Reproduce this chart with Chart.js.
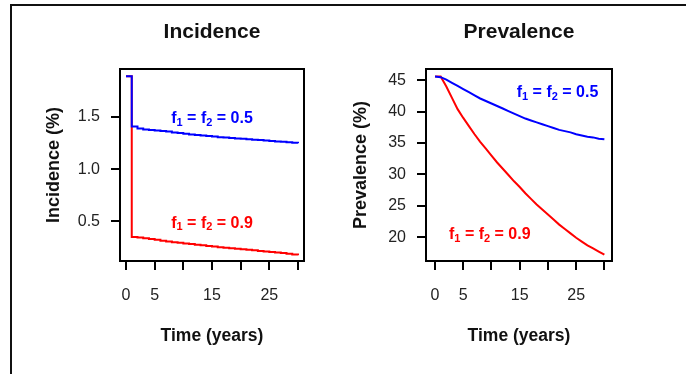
<!DOCTYPE html>
<html>
<head>
<meta charset="utf-8">
<script src="https://cdn.jsdelivr.net/npm/chart.js@4.4.1/dist/chart.umd.min.js"></script>
<style>
  body { margin: 0; background: #fff; }
  #wrap { position: relative; width: 686px; height: 374px; overflow: hidden; }
  #frame { position: absolute; left: 10px; top: 4px; width: 700px; height: 400px;
           border-left: 2px solid #111; border-top: 2px solid #111; }
  canvas { position: absolute; top: 0; }
</style>
</head>
<body>
<div id="wrap">
  <div id="frame"></div>
  <canvas id="incidence" width="343" height="374" style="left:0"></canvas>
  <canvas id="prevalence" width="343" height="374" style="left:343px"></canvas>
</div>
<script>
// time in years
const years = [0, 1, 2, 3, 4, 5, 6, 7, 8, 9, 10, 11, 12, 13, 14, 15, 16, 17, 18, 19, 20,
  21, 22, 23, 24, 25, 26, 27, 28, 29, 30];

// incidence (%), f1 = f2 = 0.5 (blue) and 0.9 (red)
const incidence05 = [1.89, 1.41, 1.39, 1.38, 1.375, 1.37, 1.365, 1.36, 1.352, 1.346, 1.34,
  1.333, 1.327, 1.322, 1.317, 1.312, 1.307, 1.303, 1.299, 1.295, 1.291,
  1.287, 1.283, 1.279, 1.274, 1.27, 1.266, 1.262, 1.258, 1.253, 1.248];
const incidence09 = [1.89, 0.35, 0.345, 0.338, 0.33, 0.323, 0.315, 0.308, 0.3, 0.294, 0.288,
  0.282, 0.276, 0.27, 0.264, 0.258, 0.252, 0.247, 0.242, 0.237, 0.232,
  0.227, 0.222, 0.217, 0.212, 0.207, 0.202, 0.197, 0.19, 0.183, 0.175];

// prevalence (%)
const prevalence05 = [45.6, 45.5, 45.1, 44.6, 44.1, 43.6, 43.1, 42.6, 42.1, 41.7, 41.3,
  40.9, 40.5, 40.1, 39.7, 39.3, 38.9, 38.6, 38.3, 38.0, 37.7,
  37.4, 37.1, 36.9, 36.7, 36.4, 36.2, 36.0, 35.9, 35.7, 35.6];
const prevalence09 = [45.6, 45.6, 44.0, 42.2, 40.4, 39.0, 37.7, 36.4, 35.2, 34.1, 33.0,
  31.9, 30.9, 29.9, 28.9, 28.0, 27.0, 26.1, 25.2, 24.4, 23.6,
  22.8, 22.0, 21.3, 20.6, 19.9, 19.3, 18.7, 18.2, 17.7, 17.2];

const timeTicks = [0, 5, 10, 15, 20, 25, 30];
const timeTickLabels = ["0", "5", "", "15", "", "25", ""];
const incidenceTicks = [0.5, 1.0, 1.5];
const incidenceTickLabels = ["0.5", "1.0", "1.5"];
const prevalenceTicks = [20, 25, 30, 35, 40, 45];
const prevalenceTickLabels = ["20", "25", "30", "35", "40", "45"];

const FONT = "'Liberation Sans', Arial, Helvetica, sans-serif";
const BLUE = "#0000ff";
const RED = "#ff0000";

Chart.defaults.font.family = FONT;
Chart.defaults.color = "#1a1a1a";

// draws text like "f_1 = f_2 = 0.5" with subscripts, centred on (cx, cy)
function drawNote(ctx, text, cx, cy, color) {
  const parts = [];
  text.split(/_(\d)/).forEach((t, i) => {
    if (t) parts.push({ t: t, sub: i % 2 === 1 });
  });
  const big = "bold 16px " + FONT;
  const small = "bold 11px " + FONT;
  let total = 0;
  parts.forEach((p) => {
    ctx.font = p.sub ? small : big;
    p.w = ctx.measureText(p.t).width;
    total += p.w;
  });
  let x = cx - total / 2;
  ctx.fillStyle = color;
  ctx.textAlign = "left";
  ctx.textBaseline = "middle";
  parts.forEach((p) => {
    ctx.font = p.sub ? small : big;
    ctx.fillText(p.t, x, p.sub ? cy + 4 : cy);
    x += p.w;
  });
}

const panelText = {
  id: "panelText",
  afterDraw(chart, args, opts) {
    const { ctx, chartArea, scales } = chart;
    ctx.save();
    ctx.strokeStyle = "#000";
    ctx.lineWidth = 2;
    ctx.strokeRect(chartArea.left, chartArea.top, chartArea.width, chartArea.height);

    ctx.fillStyle = "#111";
    ctx.font = "bold 21px " + FONT;
    ctx.textAlign = "center";
    ctx.textBaseline = "middle";
    ctx.fillText(opts.title, (chartArea.left + chartArea.right) / 2, 32);

    opts.notes.forEach((n) => {
      drawNote(ctx, n.text, scales.x.getPixelForValue(n.x), scales.y.getPixelForValue(n.y), n.color);
    });
    ctx.restore();
  },
};

function toPoints(xs, ys) {
  return xs.map((x, i) => ({ x: x, y: ys[i] }));
}

function createPanel(id, p) {
  const config = {
    type: "scatter",
    data: {
      datasets: [
        {
          data: toPoints(years, p.blue),
          borderColor: BLUE,
          borderWidth: 2,
          showLine: true,
          stepped: p.stepped,
          pointRadius: 0,
          order: 0,
        },
        {
          data: toPoints(years, p.red),
          borderColor: RED,
          borderWidth: 2,
          showLine: true,
          stepped: p.stepped,
          pointRadius: 0,
          order: 1,
        },
      ],
    },
    options: {
      responsive: false,
      animation: false,
      layout: { padding: { left: p.padLeft, right: p.padRight, top: 69, bottom: 23 } },
      plugins: {
        legend: { display: false },
        tooltip: { enabled: false },
        panelText: { title: p.title, notes: p.notes },
      },
      scales: {
        x: {
          type: "linear",
          min: p.xMin,
          max: p.xMax,
          afterBuildTicks: (scale) => {
            scale.ticks = timeTicks.map((v) => ({ value: v }));
          },
          afterFit: (scale) => {
            scale.height = 90;
          },
          ticks: {
            autoSkip: false,
            maxRotation: 0,
            padding: 16,
            color: "#222",
            font: { size: 16 },
            callback: (v) => timeTickLabels[timeTicks.indexOf(v)],
          },
          grid: { drawOnChartArea: false, tickLength: 9, color: "#000", lineWidth: 2 },
          border: { display: false },
          title: { display: true, text: "Time (years)", font: { size: 17.5, weight: "bold" }, color: "#111" },
        },
        y: {
          type: "linear",
          min: p.yMin,
          max: p.yMax,
          afterBuildTicks: (scale) => {
            scale.ticks = p.yTicks.map((v) => ({ value: v }));
          },
          afterFit: (scale) => {
            scale.width = p.yWidth;
          },
          ticks: {
            padding: 11,
            color: "#222",
            font: { size: 16 },
            callback: (v) => p.yLabels[p.yTicks.indexOf(v)],
          },
          grid: { drawOnChartArea: false, tickLength: 9, color: "#000", lineWidth: 2 },
          border: { display: false },
          title: { display: true, text: p.yTitle, font: { size: 18, weight: "bold" }, color: "#111" },
        },
      },
    },
    plugins: [panelText],
  };
  return new Chart(document.getElementById(id), config);
}

createPanel("incidence", {
  title: "Incidence",
  yTitle: "Incidence (%)",
  blue: incidence05,
  red: incidence09,
  stepped: "before",
  xMin: -1.05,
  xMax: 31.05,
  yMin: 0.12,
  yMax: 1.96,
  yTicks: incidenceTicks,
  yLabels: incidenceTickLabels,
  padLeft: 39,
  yWidth: 81,
  padRight: 39,
  notes: [
    { text: "f_1 = f_2 = 0.5", x: 15, y: 1.48, color: BLUE },
    { text: "f_1 = f_2 = 0.9", x: 15, y: 0.48, color: RED },
  ],
});

createPanel("prevalence", {
  title: "Prevalence",
  yTitle: "Prevalence (%)",
  blue: prevalence05,
  red: prevalence09,
  stepped: false,
  xMin: -1.6,
  xMax: 31.35,
  yMin: 16.2,
  yMax: 46.8,
  yTicks: prevalenceTicks,
  yLabels: prevalenceTickLabels,
  padLeft: 3,
  yWidth: 80,
  padRight: 74,
  notes: [
    { text: "f_1 = f_2 = 0.5", x: 21.7, y: 42.98, color: BLUE },
    { text: "f_1 = f_2 = 0.9", x: 9.7, y: 20.35, color: RED },
  ],
});
</script>
</body>
</html>
